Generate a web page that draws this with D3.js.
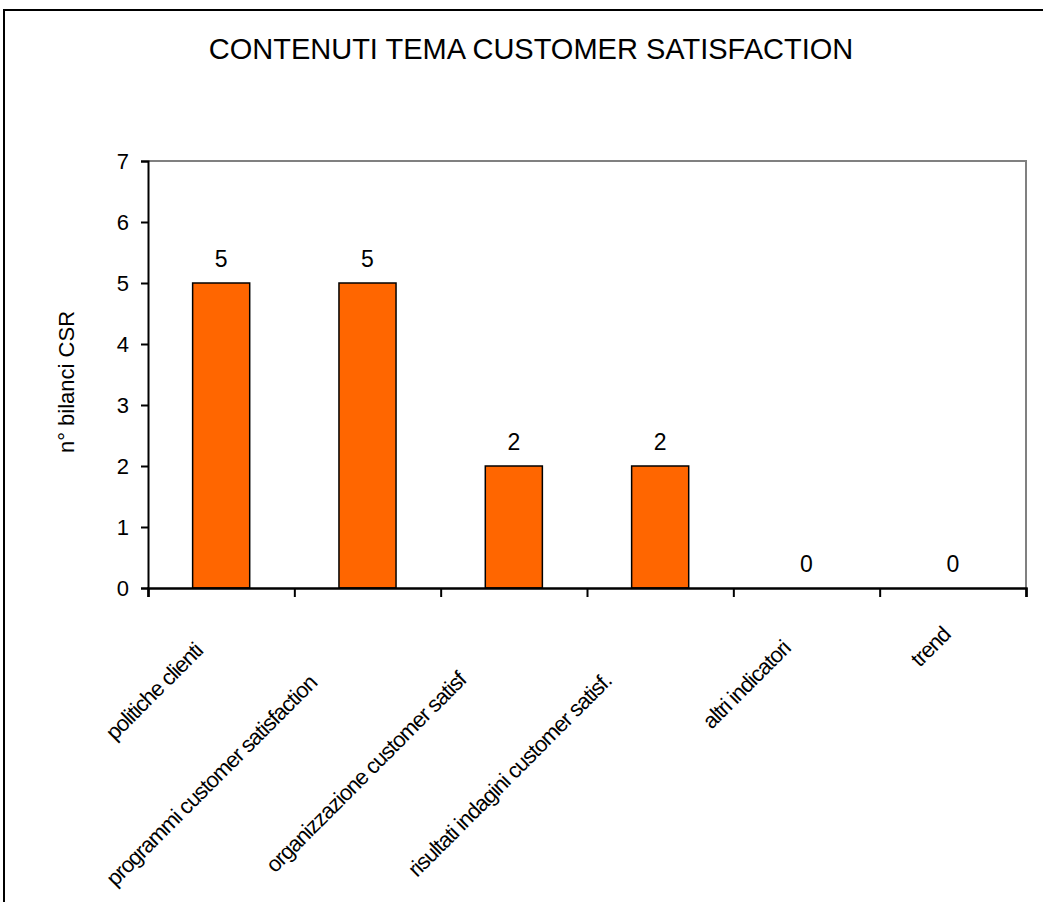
<!DOCTYPE html>
<html><head><meta charset="utf-8">
<script src="https://cdn.jsdelivr.net/npm/d3@7"></script>
<style>body{margin:0;background:#fff;overflow:hidden} svg{display:block}</style>
</head><body>
<svg id="c" width="1043" height="902"></svg>
<script>
const chartTitle = "CONTENUTI TEMA CUSTOMER SATISFACTION";
const yAxisTitle = "n° bilanci CSR";
const categories = ["politiche clienti", "programmi customer satisfaction", "organizzazione customer satisf", "risultati indagini customer satisf.", "altri indicatori", "trend"];
const values = [5, 5, 2, 2, 0, 0];
const yTicks = [0, 1, 2, 3, 4, 5, 6, 7];

const svg = d3.select("#c");
const font = "'Liberation Sans', Arial, sans-serif";
const L = 148, R = 1026, T = 161, B = 588;

// outer frame
svg.append("rect").attr("x", 4).attr("y", 10).attr("width", 1200).attr("height", 1200)
  .attr("fill", "none").attr("stroke", "#000").attr("stroke-width", 2);

const x = d3.scaleBand().domain(categories).range([L, R]).paddingInner(0.61).paddingOuter(0.305);
const xi = d3.scaleLinear().domain([0, categories.length]).range([L, R]);
const y = d3.scaleLinear().domain([0, 7]).range([B, T]);

// plot frame top/right (gray)
svg.append("path").attr("d", `M${L},${y(7)}H${R}V${B}`).attr("fill", "none")
  .attr("stroke", "#808080").attr("stroke-width", 2);

// bars
svg.append("g").selectAll("rect").data(categories).join("rect")
  .attr("x", d => x(d)).attr("width", x.bandwidth())
  .attr("y", (d, i) => y(values[i])).attr("height", (d, i) => y(0) - y(values[i]))
  .attr("fill", "#FF6600").attr("stroke", "#000").attr("stroke-width", 1.5);

// y axis
const ya = svg.append("g").attr("transform", `translate(${L},0)`)
  .call(d3.axisLeft(y).tickValues(yTicks).tickSize(7).tickPadding(12).tickFormat(d3.format("d")));
ya.select(".domain").attr("stroke", "#000").attr("stroke-width", 2);
ya.selectAll(".tick line").attr("stroke", "#000").attr("stroke-width", 2);
ya.selectAll("text").attr("font-family", font).attr("font-size", 22).attr("fill", "#000");

// x axis
const xa = svg.append("g").attr("transform", `translate(0,${B})`)
  .call(d3.axisBottom(xi).tickValues(d3.range(categories.length + 1)).tickSize(9).tickFormat(""));
xa.select(".domain").attr("stroke", "#000").attr("stroke-width", 2.5);
xa.selectAll(".tick line").attr("stroke", "#000").attr("stroke-width", 2);

// value labels
svg.append("g").selectAll("text").data(categories).join("text")
  .attr("x", d => x(d) + x.bandwidth() / 2)
  .attr("y", (d, i) => y(values[i]) - 16)
  .attr("text-anchor", "middle").attr("font-family", font).attr("font-size", 23)
  .text((d, i) => values[i]);

// category labels (rotated, end-anchored)
const cl = svg.append("g").selectAll("text").data(categories).join("text")
  .attr("text-anchor", "end")
  .attr("font-family", font).attr("font-size", 22).attr("letter-spacing", "-1px")
  .text(d => d);
cl.each(function (d) {
  const len = this.getComputedTextLength();
  const dy = 39 + 0.2 * len;
  const ex = x(d) + x.bandwidth() / 2 + 47 - dy;
  const ey = B + dy;
  d3.select(this).attr("transform", `translate(${ex},${ey}) rotate(-45)`);
});

// title
svg.append("text").attr("x", 531).attr("y", 59).attr("text-anchor", "middle")
  .attr("font-family", font).attr("font-size", 29).text(chartTitle);

// y axis title
svg.append("text").attr("transform", "translate(74,382) rotate(-90)").attr("text-anchor", "middle")
  .attr("font-family", font).attr("font-size", 22).text(yAxisTitle);
</script>
</body></html>
